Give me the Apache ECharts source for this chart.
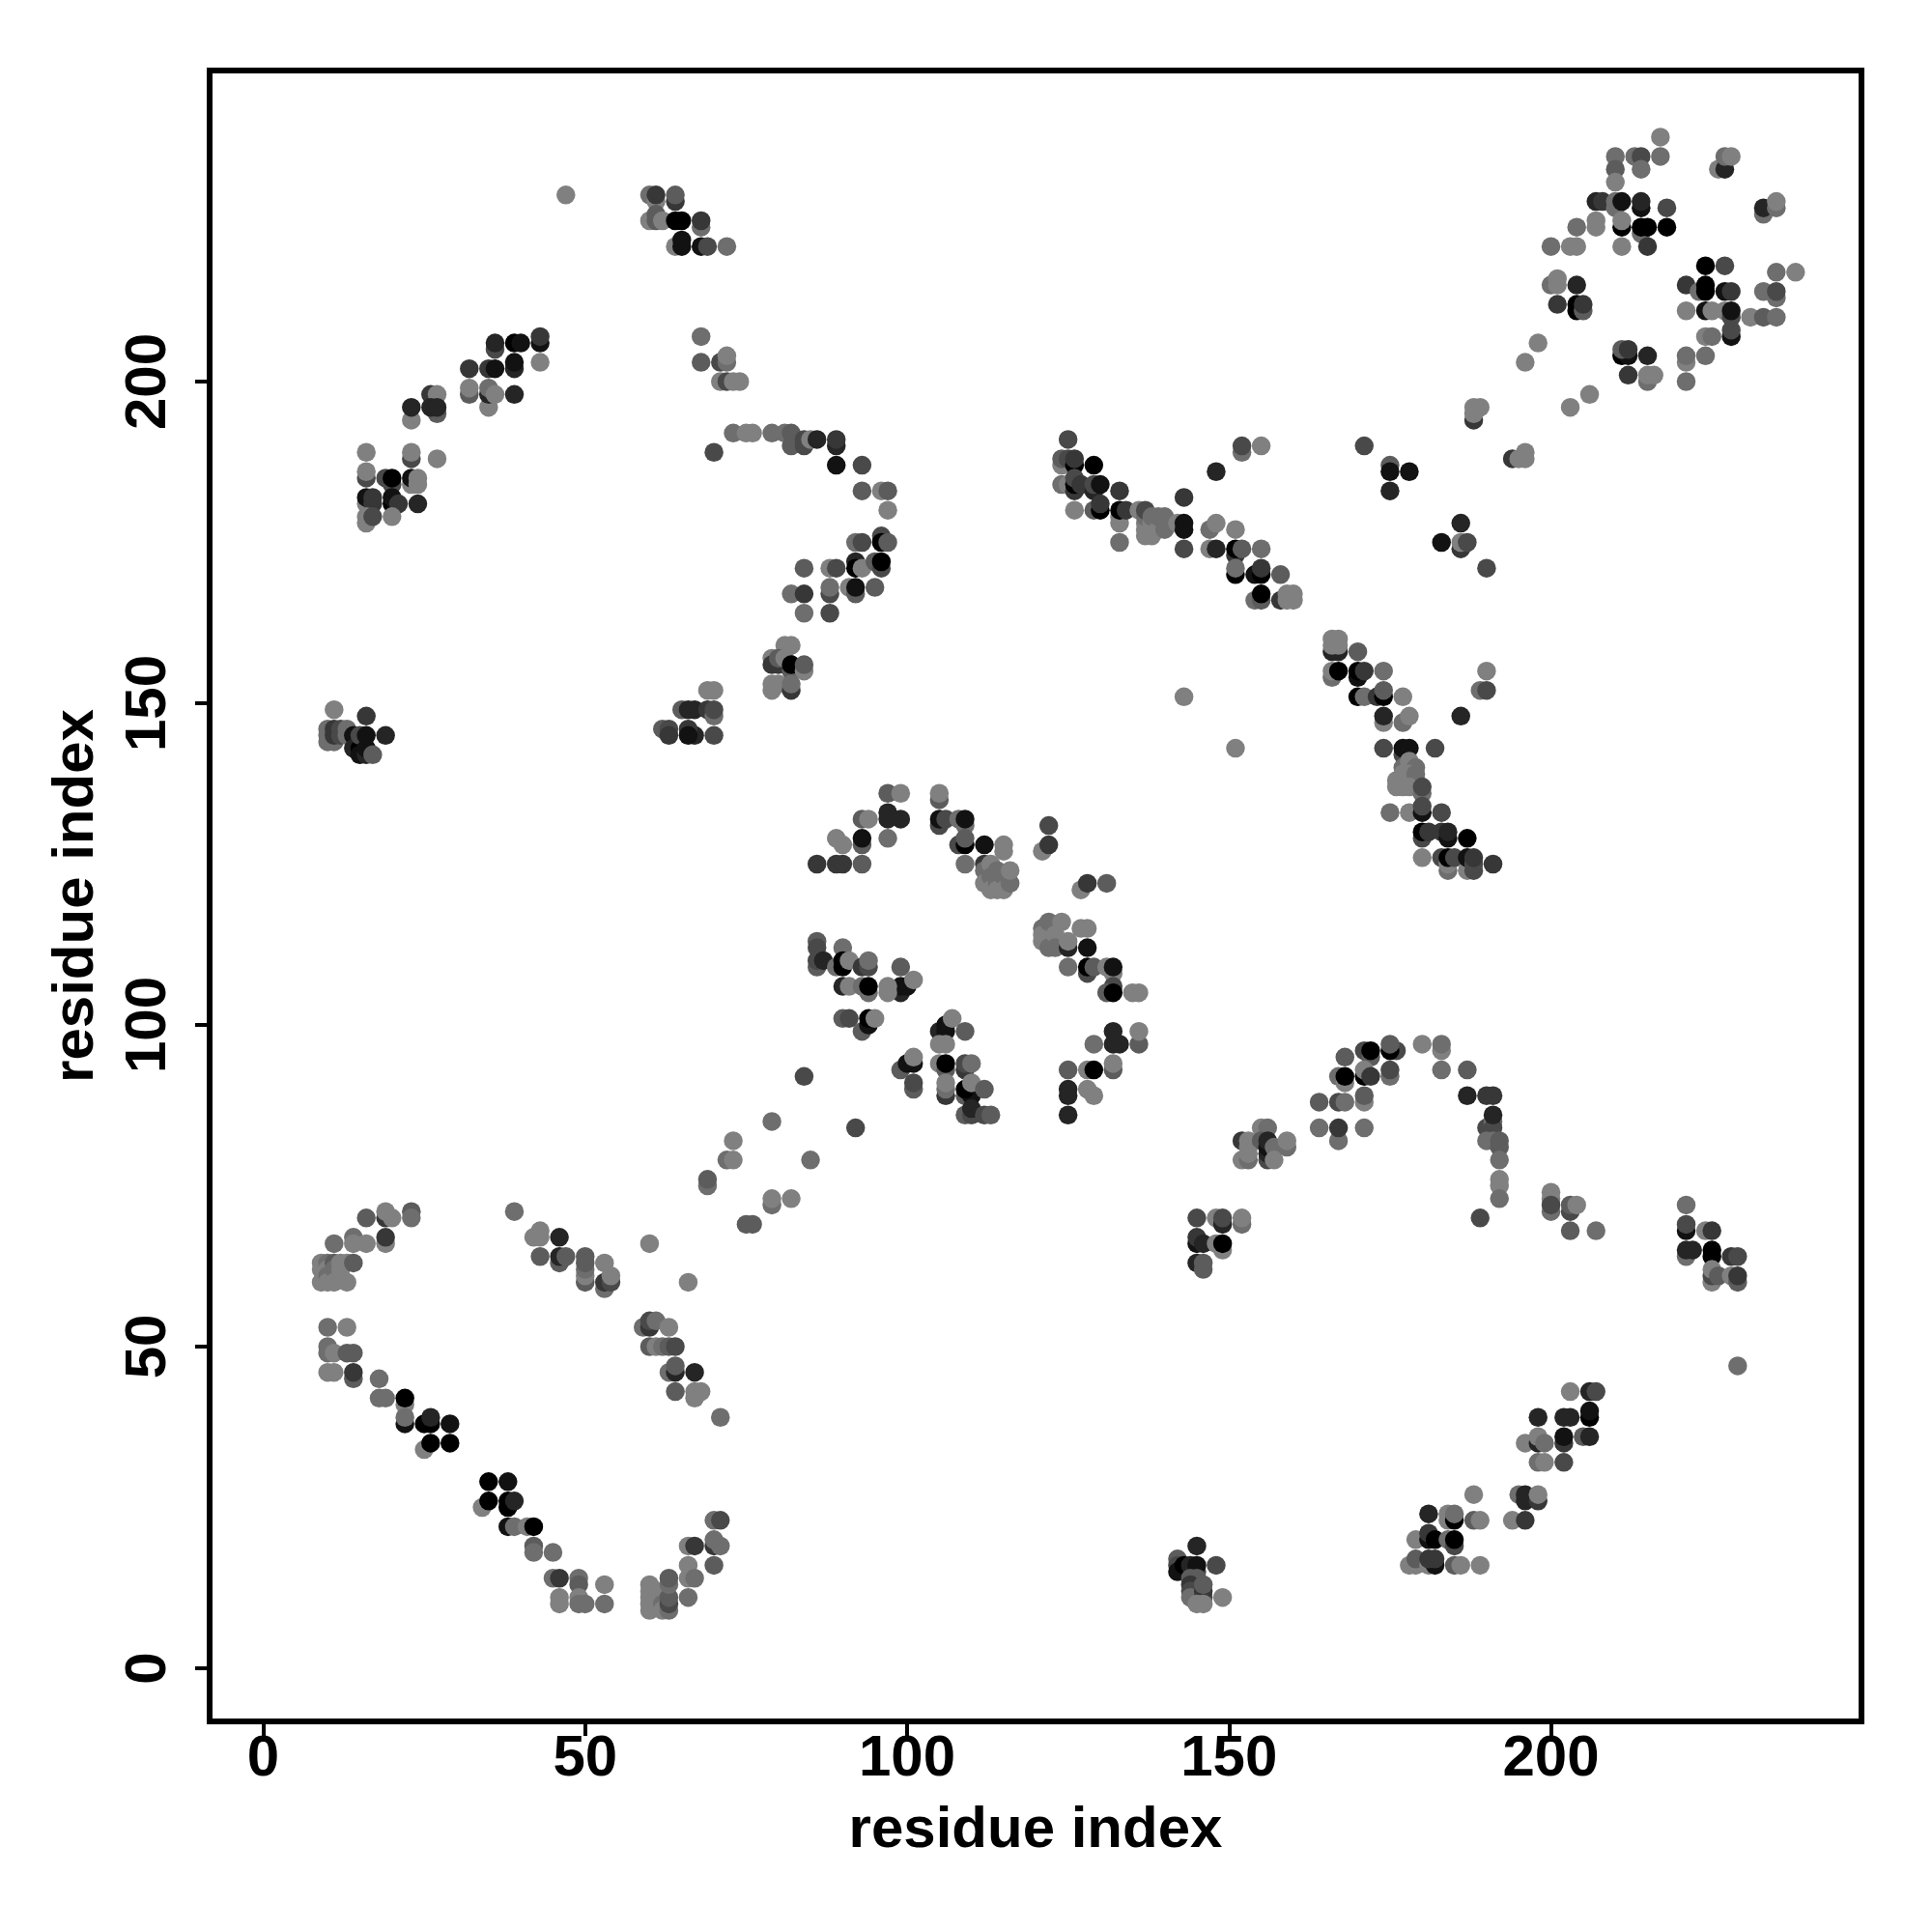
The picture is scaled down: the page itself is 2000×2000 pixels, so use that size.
<!DOCTYPE html>
<html><head><meta charset="utf-8">
<style>html,body{margin:0;padding:0;background:#fff}#c{width:2000px;height:2000px}</style>
<script src="https://cdn.jsdelivr.net/npm/echarts@6/dist/echarts.min.js"></script>
</head><body><div id="c"></div>
<script>
// each contact: [residue i, residue j, shade 0 (darkest) .. 7 (lightest)]
const tickValues = [0, 50, 100, 150, 200];
const axisTitle = "residue index";
const lowerLeft = [[19,70,3],[16,70,5],[23,71,5],[23,70,6],[19,71,7],[20,70,7],[11,66,6],[14,67,6],[14,66,7],[16,66,7],[19,66,7],[19,67,3],
[9,63,7],[9,62,7],[9,60,7],[10,63,6],[10,62,7],[10,61,6],[10,60,7],[11,63,5],[11,62,6],[11,60,7],[12,63,7],[12,62,7],[12,61,7],[13,63,7],[13,60,7],[14,63,5],
[10,53,6],[13,53,7],[10,50,6],[10,49,6],[11,49,7],[13,49,5],[14,49,5],[10,46,7],[11,46,7],[14,45,5],[14,46,3],[18,45,6],[18,42,6],[19,42,6],[22,41,7],[22,42,0],
[22,38,1],[22,39,6],[25,38,0],[26,38,0],[26,39,2],[29,38,1],[25,34,7],[26,35,0],[29,35,0],[34,25,7],[35,29,0],[38,29,1],[35,26,0],[38,25,0],[38,26,0],[39,26,2],
[38,22,1],[39,22,6],[41,22,7],[42,22,0],[42,19,5],[42,18,6],[45,18,6],[45,14,6],[46,14,3],[49,14,6],[49,13,5],[53,13,7],[46,11,7],[46,10,7],[49,11,7],[49,10,6],[50,10,6],[53,10,6],
[60,13,7],[60,12,7],[60,11,7],[60,10,7],[60,9,7],[61,12,7],[61,10,7],[62,10,6],[62,9,7],[63,9,6],[63,10,4],[63,11,5],[63,13,6],[63,14,5],
[66,16,7],[66,14,7],[67,14,6],[66,11,6],[70,16,5],[66,19,7],[67,19,3],[70,19,3],[70,20,6],[71,19,6],[70,23,6],[71,23,4]];
const midLeft = [[39,71,6],[42,67,7],[43,67,7],[43,68,7],[46,67,2],[43,64,5],[46,63,5],[46,64,2],[47,64,5],[50,60,5],[50,61,7],[50,62,6],[50,63,5],[50,64,5],[53,63,7],[53,59,6],[53,60,3],[54,60,4],[54,61,7],[60,66,7],[66,60,7],
[59,53,6],[60,53,3],[60,54,4],[61,54,6],[63,53,7],[60,50,5],[61,50,7],[62,50,6],[63,50,5],[64,50,4],[63,46,6],[64,46,2],[64,47,5],[67,46,2],[64,43,5],[67,42,7],[67,43,7],[68,43,7],[71,39,6],
[69,75,6],[69,76,5],[72,79,6],[73,79,7],[73,82,7],[75,69,5],[76,69,5],[79,72,6],[79,73,7],[82,73,7],[79,85,6],[85,79,6],[84,92,4],[92,84,4]];
const centre = [[86,125,3],[89,125,3],[90,125,3],[93,125,5],[89,129,7],[90,128,7],[93,128,5],[93,129,1],[93,132,5],[94,132,7],[97,133,2],[97,132,2],[99,132,2],[97,129,6],[97,136,5],[99,136,7],[105,135,5],[105,136,7],
[105,131,4],[105,132,1],[106,132,4],[108,132,6],[109,131,6],[109,132,1],[108,128,4],[109,128,0],[109,129,5],[112,128,1],[115,127,7],[115,128,7],[109,125,6],
[112,125,3],[112,124,6],[112,122,7],[113,125,7],[113,123,6],[113,121,7],[114,124,6],[114,122,6],[114,121,7],[115,123,6],[115,121,7],[116,122,6],[116,124,7],
[122,131,4],[121,127,7],[122,128,3],[127,121,7],[128,122,3],[131,122,5],
[121,115,6],[121,114,7],[121,113,7],[122,116,6],[122,112,6],[123,114,7],[123,112,6],[124,116,7],[125,112,2],[125,113,7],[127,115,7],[128,115,7],[128,112,1],
[125,109,6],[128,108,4],[128,109,0],[129,109,5],[131,109,7],[132,108,7],[132,109,1],[132,106,4],[131,105,5],[132,105,0],[135,105,7],[136,105,7],
[132,99,2],[136,97,5],[136,99,7],[132,97,2],[133,97,2],[129,97,6],[125,93,5],[128,93,7],[129,93,0],[132,93,5],[132,94,7],[125,90,2],[125,89,2],[128,90,7],[129,89,7],[125,86,2],
[86,113,5],[86,112,4],[86,109,5],[86,110,4],[87,110,2],[90,112,6],[89,109,6],[90,109,0],[90,110,0],[91,110,7],[93,109,3],[94,109,4],[94,110,6],[99,109,5],
[99,105,2],[99,106,1],[100,106,1],[101,107,7],[90,106,2],[91,106,7],[93,106,6],[94,105,6],[94,106,0],[97,106,7],[97,105,7],
[90,101,5],[91,101,4],[93,99,5],[94,100,1],[94,101,0],[95,101,7],[105,99,2],[106,99,1],[106,100,1],[107,101,7],[109,99,5],[105,97,7],[106,97,7],[105,94,7],[106,93,5],[106,94,0],
[109,93,3],[109,94,4],[110,94,6],[99,93,5],[100,94,1],[101,94,1],[101,95,7],[101,90,5],[101,91,4],[106,89,3],[106,90,6],[106,91,7],
[109,89,5],[110,89,1],[109,90,0],[110,91,7],[112,90,5],[109,86,5],[110,86,4],[110,87,2],[112,86,4],[113,86,5]];
const topRight = [[217,238,7],[210,235,6],[213,235,6],[214,235,4],[217,235,6],[210,233,5],[214,233,6],[210,231,7],[207,228,2],[208,228,3],[210,227,6],[210,228,6],[211,228,1],[214,227,1],[214,228,2],[218,227,4],
[207,224,7],[207,225,7],[204,224,6],[211,224,0],[211,225,7],[214,223,6],[214,224,0],[215,224,0],[218,224,0],[200,221,6],[203,221,7],[204,221,7],[211,221,7],[215,221,3],
[200,215,6],[201,215,7],[201,216,7],[204,215,2],[201,212,3],[204,211,0],[204,212,0],[205,211,5],[205,212,3],[198,206,7],[196,203,7],[206,198,7],[203,196,7],
[211,204,0],[212,204,1],[211,205,5],[212,205,3],[215,204,2],[212,201,3],[215,200,6],[215,201,7],[216,201,7],[221,203,7],[221,204,6],[224,204,6],[221,200,6],
[224,218,0],[227,218,4],[221,215,3],[223,214,6],[224,214,0],[224,215,0],[227,214,1],[228,214,3],[221,211,7],[224,211,1],[225,211,7],[227,211,7],[228,207,1],[228,208,4],[228,210,4],[228,211,1],
[224,207,7],[225,207,6],[231,210,7],[233,210,5],[235,210,6],[233,214,6],[235,213,6],[235,214,4],[235,217,6],[238,217,7],[233,226,6],[233,227,2],[235,227,6],[235,228,7],[226,233,7],[227,233,2],[227,235,6],[228,235,7]];
const diagonalRight = [[125,191,4],[124,187,7],[124,188,5],[125,188,4],[126,187,0],[126,188,3],[129,187,0],[124,184,6],[125,184,7],[126,183,3],[126,184,0],[126,185,4],[127,184,3],[129,183,2],[129,184,4],[130,184,1],[133,183,3],
[126,180,7],[129,180,5],[130,180,0],[130,181,3],[133,175,6],[133,178,7],[133,179,7],[133,180,0],[134,180,3],[136,180,7],[137,176,7],[137,177,7],[137,178,7],[137,179,6],[137,180,4],[138,176,7],[138,178,7],[138,179,6],[139,177,7],[139,179,6],[140,177,6],[140,179,6],
[142,178,7],[143,182,3],[143,178,1],[143,177,1],[143,174,4],[148,186,2],[152,189,6],[152,190,4],[155,190,7],[147,177,6],[148,178,7],[151,177,7],[147,174,7],[148,174,2],[151,173,3],[151,174,0],[152,174,5],[155,174,6],
[151,170,0],[151,171,6],[154,170,1],[155,170,0],[155,171,3],[158,170,5],[154,166,6],[155,166,5],[155,167,0],[158,166,3],[159,166,7],[160,166,7],[159,167,7],[160,167,7],
[166,158,2],[167,158,2],[166,159,7],[167,159,7],[166,160,7],[167,160,7],[170,158,5],[166,154,6],[166,155,7],[167,155,0],[170,154,1],[170,155,0],[171,155,3],[174,155,6],
[170,151,0],[171,151,6],[173,151,3],[174,151,0],[174,152,5],[177,151,7],[174,147,7],[174,148,2],[177,147,6],[178,148,7],[174,143,4],[177,142,4],[177,143,1],[178,143,1],[182,143,4],
[177,140,6],[178,141,7],[178,140,7],[179,140,6],[177,139,7],[178,139,7],[179,139,6],[179,138,6],[176,138,7],[176,137,7],[177,137,7],[178,137,7],[180,136,6],[180,137,4],[175,133,6],[178,133,7],[180,133,1],[180,134,4],[183,133,4],
[180,129,4],[180,130,0],[181,130,3],[183,130,3],[184,129,1],[184,130,2],[187,129,0],[180,126,7],[183,126,4],[184,124,6],[184,125,7],[184,126,0],[185,126,4],[187,124,7],[187,126,1],[188,124,4],[188,125,4],[188,126,3],[191,125,3],
[190,155,7],[189,152,6],[190,152,4],[186,148,2],[143,151,7],[151,143,7]];
const upperLeft = [[43,203,7],[43,206,1],[43,207,3],[39,206,0],[40,206,1],[36,205,4],[36,206,2],[32,202,3],[35,202,3],[36,202,1],[39,202,2],[39,203,1],[39,198,2],[32,198,5],[32,199,7],[35,196,7],[35,198,2],[35,199,6],[36,198,7],
[26,198,3],[27,198,7],[23,194,7],[23,196,2],[27,195,5],[26,196,2],[27,196,2],[23,188,4],[23,189,7],[27,188,7],[16,189,7],[16,185,4],[16,186,7],[19,185,4],[20,184,4],[20,185,0],[23,184,7],[23,185,1],[24,184,7],[24,185,7],
[16,181,7],[16,182,1],[17,181,3],[17,182,3],[20,181,0],[20,182,1],[21,181,3],[24,181,2],[20,179,7],[16,178,7],[16,179,7],[17,179,4],[47,229,7],
[60,229,6],[61,228,7],[61,229,3],[64,228,3],[64,229,5],[60,225,7],[61,226,5],[61,225,5],[62,225,7],[64,225,0],[65,225,0],[68,224,6],[68,225,3],[64,221,7],[65,221,1],[65,222,1],[68,221,1],[69,221,4],[72,221,6],
[68,207,6],[68,203,5],[71,203,4],[72,203,6],[72,204,7],[71,200,7],[72,200,4],[73,200,7],[74,200,7],[70,189,4],[73,192,6],[75,192,7],[76,192,7],[79,192,6],[81,192,6],[82,190,5],[82,192,5],[84,190,4],[84,191,4],[85,191,7],[86,191,2],[89,190,2],[89,191,3],[89,187,1],[93,187,4],
[93,183,5],[96,183,7],[97,183,5],[97,180,7],[96,176,4],[96,175,0],[97,175,5],[92,175,6],[93,175,4],[92,172,2],[92,171,0],[93,171,7],[95,172,5],[96,171,4],[96,172,0],[84,171,5],[88,171,7],[89,171,4],
[88,167,4],[88,168,6],[91,168,7],[92,167,5],[92,168,1],[95,168,5],[82,167,6],[84,167,3],[84,164,6],[88,164,4],
[81,159,7],[82,159,7],[79,157,7],[79,156,3],[80,156,3],[80,157,5],[81,157,7],[82,155,5],[82,156,0],[84,155,7],[84,156,5],[79,152,7],[79,153,7],[80,153,7],[82,152,3],[82,153,6],
[69,152,7],[70,152,7],[67,149,2],[69,149,3],[70,148,6],[70,149,4],[67,145,2],[70,145,4],[62,146,5],[63,146,4],[63,145,3],[65,149,5],[66,149,2],[66,146,3],[66,145,1],
[11,149,7],[16,148,3],[19,145,2],[10,146,6],[10,145,6],[10,144,6],[11,144,6],[11,146,3],[11,145,3],[12,146,4],[12,145,4],[13,146,6],[13,145,6],[14,145,1],[14,143,2],[15,143,0],[15,145,4],[15,142,1],[16,142,2],[16,143,1],[16,145,1],[17,142,5]];
const lowerRight = [[176,96,4],[175,96,0],[175,97,5],[180,97,7],[183,93,6],[183,96,7],[183,97,6],[187,93,5],[171,96,4],[172,95,5],[172,96,0],[168,95,5],[167,92,6],[168,91,7],[168,92,0],[171,92,0],[171,93,7],[172,92,3],[175,92,6],[175,93,4],
[164,88,5],[167,88,4],[168,88,6],[171,88,7],[171,89,5],[164,84,6],[167,82,6],[167,84,3],[171,84,6],[187,89,2],[190,89,3],[191,89,3],[190,84,4],[191,85,6],[191,84,4],[191,86,2],[190,82,6],[191,82,6],[192,81,5],[192,82,5],[192,79,6],[192,76,7],[192,75,7],[192,73,6],[189,70,4],
[155,84,7],[156,84,6],[152,82,3],[153,81,7],[153,82,7],[155,82,5],[156,79,4],[156,80,2],[156,81,1],[156,82,2],[157,81,6],[157,79,7],[159,81,6],[159,82,7],[152,79,7],[153,79,6],[153,80,7],
[145,70,4],[148,70,7],[149,69,2],[149,70,4],[152,69,6],[152,70,7],[145,66,1],[145,67,3],[146,66,2],[148,66,7],[149,65,7],[149,66,0],[145,63,2],[146,62,5],[146,63,5],
[203,43,7],[206,43,2],[207,43,4],[198,39,2],[202,39,2],[203,39,2],[206,39,0],[206,40,1],[196,35,7],[198,35,2],[198,36,7],[199,35,6],[202,35,3],[202,36,1],[205,36,5],[206,36,2],[198,32,6],[199,32,7],[202,32,4],
[195,27,6],[196,26,2],[196,27,2],[198,26,3],[198,27,7],[194,23,7],[196,23,3],[188,27,7],[181,24,2],[184,23,7],[184,24,7],[185,23,0],[185,24,6],[188,23,5],[189,23,7],
[179,20,7],[181,20,1],[181,21,3],[182,20,0],[184,20,6],[185,19,4],[185,20,0],[178,16,7],[179,16,7],[179,17,5],[181,16,7],[182,16,1],[181,17,3],[182,17,3],[185,16,5],[186,16,7],[189,16,7],
[145,19,2],[142,17,5],[142,16,4],[142,15,1],[143,15,1],[143,16,0],[144,16,2],[145,15,4],[145,16,1],[148,16,4],[144,14,5],[145,14,5],[144,13,3],[144,12,4],[144,11,6],[146,11,4],[146,12,3],[146,13,5],[145,10,7],[146,10,7],[149,11,7]];
const farRight = [[200,74,7],[200,73,7],[200,71,6],[200,72,4],[203,71,4],[203,72,5],[204,72,7],[203,68,5],[207,68,6],[221,72,6],[221,68,1],[221,69,4],[224,68,7],[225,68,3],[221,64,6],[221,65,2],[222,65,2],[225,64,0],[225,65,0],[228,64,3],[229,64,4],
[225,60,7],[225,61,4],[225,62,7],[226,61,5],[228,61,7],[229,60,5],[229,61,3],[229,47,6],
[194,188,3],[195,188,7],[196,188,7],[196,189,7],[188,194,3],[188,195,7],[188,196,7],[189,196,7],[171,190,4],[175,187,5],[175,186,1],[175,183,2],[178,186,1],[183,175,1],[186,178,2],[186,174,3],[186,175,7],[187,175,4],[190,171,4]];

const contacts = [].concat(lowerLeft, midLeft, centre, topRight, diagonalRight, upperLeft, lowerRight, farRight);
const shadeColor = s => { const v = Math.round(s * 18.3); return `rgb(${v},${v},${v})`; };

const labelFont = { color: '#000', fontFamily: 'Liberation Sans', fontWeight: 'bold', fontSize: 60 };
const chart = echarts.init(document.getElementById('c'), null, { renderer: 'canvas' });
chart.setOption({
  animation: false,
  backgroundColor: '#fff',
  grid: { left: 217, top: 73, width: 1710, height: 1709, show: true, borderColor: '#000', borderWidth: 6, backgroundColor: 'transparent' },
  xAxis: {
    type: 'value', min: -8.33, max: 248.23, splitLine: { show: false }, scale: true,
    axisLine: { show: false, onZero: false },
    axisTick: { show: true, length: 15, inside: false, customValues: tickValues, lineStyle: { color: '#000', width: 4 } },
    axisLabel: { ...labelFont, margin: 9, customValues: tickValues, hideOverlap: false, showMinLabel: true, showMaxLabel: true },
    name: axisTitle, nameLocation: 'middle', nameGap: 83, nameTextStyle: labelFont
  },
  yAxis: {
    type: 'value', min: -8.26, max: 248.35, splitLine: { show: false }, scale: true,
    axisLine: { show: false, onZero: false },
    axisTick: { show: true, length: 15, inside: false, customValues: tickValues, lineStyle: { color: '#000', width: 4 } },
    axisLabel: { ...labelFont, margin: 33, rotate: 90, customValues: tickValues, hideOverlap: false, verticalAlign: 'bottom', align: 'center' },
    name: axisTitle, nameLocation: 'middle', nameGap: 108, nameRotate: 90, nameTextStyle: labelFont
  },
  series: [{
    type: 'scatter', symbol: 'circle', symbolSize: 19.5, silent: true, clip: true,
    data: contacts.map(c => ({ value: [c[0], c[1]], itemStyle: { color: shadeColor(c[2]), opacity: 1 } }))
  }]
});
</script></body></html>
